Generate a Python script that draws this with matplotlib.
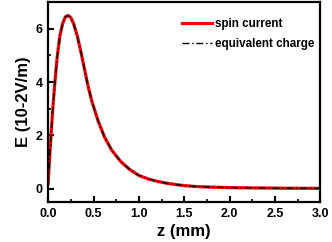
import numpy as np
import matplotlib
matplotlib.use("Agg")
import matplotlib.pyplot as plt
from matplotlib.ticker import MultipleLocator

# values
z_mm = [0.0, 0.015, 0.03, 0.045, 0.058, 0.077, 0.10, 0.13, 0.16, 0.19, 0.22,
        0.25, 0.28, 0.32, 0.36, 0.40, 0.44, 0.48, 0.55, 0.62, 0.70, 0.80,
        0.90, 1.00, 1.10, 1.20, 1.30, 1.40, 1.52, 1.65, 1.80, 2.04, 2.30,
        2.60, 3.00]
E_spin = [0.2, 1.1, 1.9, 2.7, 3.3, 4.1, 4.95, 5.75, 6.2, 6.45, 6.5,
          6.42, 6.2, 5.75, 5.15, 4.5, 3.85, 3.3, 2.55, 1.95, 1.45, 1.02,
          0.72, 0.5, 0.37, 0.28, 0.21, 0.16, 0.11, 0.08, 0.06, 0.04, 0.03,
          0.02, 0.015]
E_charge = E_spin

plt.rcParams['font.family'] = ['Liberation Sans', 'DejaVu Sans']
plt.rcParams['font.weight'] = 'bold'

fig = plt.figure(figsize=(3.32, 2.42), dpi=100)
ax = fig.add_axes([0.145, 0.165, 0.82, 0.826])

ax.plot(z_mm, E_spin, color='red', linewidth=2.3, label='spin current')
ax.plot(z_mm, E_charge, color='black', linewidth=1.0, linestyle='-.',
        dashes=(5, 2, 1, 2), label='equivalent charge')

ax.set_xlim(0, 3.0)
ax.set_ylim(-0.5, 7)
ax.xaxis.set_major_locator(MultipleLocator(0.5))
ax.xaxis.set_minor_locator(MultipleLocator(0.25))
ax.yaxis.set_major_locator(MultipleLocator(2))
ax.yaxis.set_minor_locator(MultipleLocator(1))
ax.xaxis.set_major_formatter(plt.FormatStrFormatter('%.1f'))

for sp in ax.spines.values():
    sp.set_linewidth(1.6)
ax.tick_params(which='major', direction='in', length=4, width=1.5,
               labelsize=9, pad=4)
ax.tick_params(which='minor', direction='in', length=2, width=1.2)
for lab in ax.get_xticklabels() + ax.get_yticklabels():
    lab.set_fontweight('bold')

ax.set_xlabel('z (mm)', fontsize=12, fontweight='bold', labelpad=3)
ax.set_ylabel('E (10-2V/m)', fontsize=12, fontweight='bold', labelpad=3)

ax.legend(loc='upper left', frameon=False,
          handlelength=2.6, handletextpad=0.25, labelspacing=0.65,
          borderaxespad=0, borderpad=0, bbox_to_anchor=(0.492, 0.92),
          prop={'weight': 'bold', 'size': 8.4})

fig.savefig('out.png', dpi=100)
